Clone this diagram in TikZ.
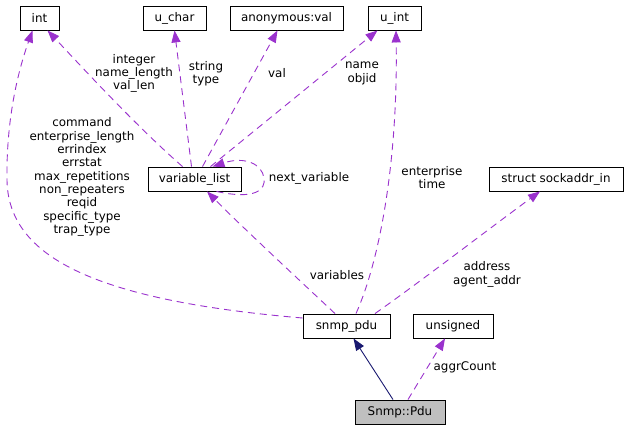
\documentclass[tikz,border=0pt]{standalone}
\usepackage{fontspec}
\setmainfont{DejaVu Sans}
\usetikzlibrary{arrows.meta}
\definecolor{edgepurple}{RGB}{154,50,205}
\definecolor{edgenavy}{RGB}{25,25,112}
\definecolor{selgray}{RGB}{191,191,191}
\begin{document}
\begin{tikzpicture}[x=1pt,y=-1pt,
  cls/.style={draw=black, line width=0.9pt, fill=white, minimum height=24pt, inner sep=0pt, font=\fontsize{11.9}{13.3}\selectfont},
  use/.style={draw=edgepurple, line width=0.9pt, dash pattern=on 7pt off 5pt, -{Triangle[length=12pt,width=9pt,fill=edgepurple]}},
  inh/.style={draw=edgenavy, line width=0.9pt, -{Triangle[length=12pt,width=9pt,fill=edgenavy]}},
  lbl/.style={align=center, inner sep=0pt, font=\fontsize{11.9}{13.3}\selectfont}
]
\useasboundingbox (0,0) rectangle (629,431);

\node[cls, minimum width=39pt] (int) at (39.5,18) {int};
\node[cls, minimum width=63pt] (uchar) at (174.5,18) {u\_char};
\node[cls, minimum width=113pt] (anon) at (286.5,18) {anonymous:val};
\node[cls, minimum width=53pt] (uint) at (394.5,18) {u\_int};
\node[cls, minimum width=93pt] (vl) at (194.5,179) {variable\_list};
\node[cls, minimum width=134pt] (sock) at (556,179) {struct sockaddr\_in};
\node[cls, minimum width=87pt] (pdu) at (346.5,326) {snmp\_pdu};
\node[cls, minimum width=80pt] (uns) at (453,326) {unsigned};
\node[cls, minimum width=90pt, fill=selgray] (spdu) at (400,412) {Snmp::Pdu};

% edges
\draw[use] ([yshift=8pt]pdu.west) .. controls (90,300) and (8,255) .. (7,180) .. controls (6,110) and (22,60) .. ([xshift=-7pt]int.south);
\draw[use] ([xshift=-12pt]vl.north) .. controls (135,125) and (80,65) .. ([xshift=8pt]int.south);
\draw[use] ([xshift=-3pt]vl.north) -- (uchar.south);
\draw[use] ([xshift=8pt]vl.north) -- ([xshift=-9pt]anon.south);
\draw[use] ([xshift=16pt]vl.north) -- ([xshift=-17pt]uint.south);
\draw[use] ([xshift=22pt]vl.south) .. controls (255,200) and (266,190) .. (264,178) .. controls (262,164) and (245,156) .. ([xshift=18pt]vl.north);
\draw[use] ([xshift=-11.5pt]pdu.north) .. controls (312,292) and (240,225) .. ([xshift=12.5pt]vl.south);
\draw[use] ([xshift=9.5pt]pdu.north) .. controls (380,260) and (398,160) .. ([xshift=1.5pt]uint.south);
\draw[use] ([xshift=28.5pt]pdu.north) .. controls (420,282) and (490,228) .. ([xshift=-16pt]sock.south);
\draw[inh] ([xshift=-7pt]spdu.north) -- ([xshift=7pt]pdu.south);
\draw[use] ([xshift=8pt]spdu.north) -- ([xshift=-8pt]uns.south);

% labels
\node[lbl] (lcmd) at (82,177) {command\\enterprise\_length\\errindex\\errstat\\max\_repetitions\\non\_repeaters\\reqid\\specific\_type\\trap\_type};
\node[lbl] (lint) at (134,73.5) {integer\\name\_length\\val\_len};
\node[lbl] (lstr) at (206,73.5) {string\\type};
\node[lbl] (lval) at (277,73) {val};
\node[lbl] (lname) at (362,73.5) {name\\objid};
\node[lbl] (lnext) at (309,178) {next\_variable};
\node[lbl] (lent) at (432,177.5) {enterprise\\time};
\node[lbl] (lvars) at (337,275) {variables};
\node[lbl] (laddr) at (487,274.5) {address\\agent\_addr};
\node[lbl] (lagg) at (465,367) {aggrCount};
\end{tikzpicture}
\end{document}
